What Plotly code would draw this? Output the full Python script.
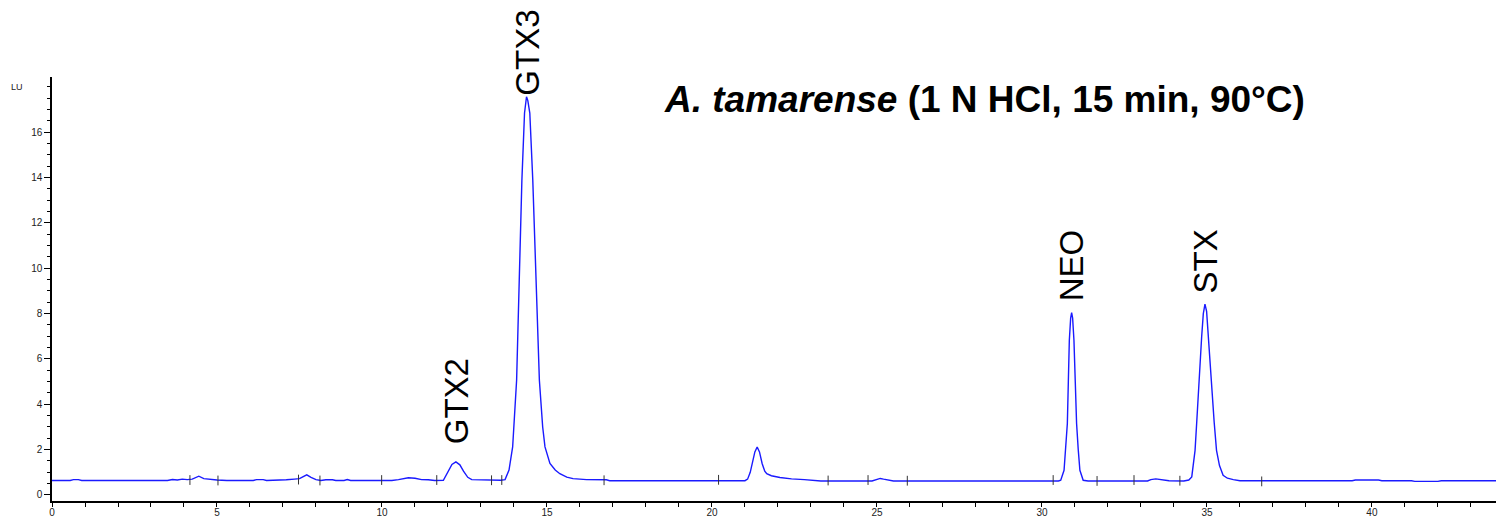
import plotly.graph_objects as go

# Chromatogram points (time in min, signal in LU)
time_min = [
    0.0, 0.55, 0.65, 0.8, 0.9, 3.5, 3.65, 3.8, 3.95, 4.1, 4.25, 4.45, 4.6, 4.8, 5.0, 5.3,
    6.1, 6.2, 6.4, 6.5, 7.0, 7.1, 7.35, 7.5, 7.6, 7.72, 7.85, 8.0, 8.15, 8.3, 8.5, 8.6,
    8.85, 8.95, 9.05, 10.3, 10.5, 10.8, 11.0, 11.2, 11.4, 11.6, 11.86, 12.0, 12.12, 12.24,
    12.36, 12.47, 12.6, 12.72, 13.0, 13.6, 13.73, 13.85, 13.96, 14.08, 14.16, 14.24, 14.32,
    14.38, 14.42, 14.48, 14.57, 14.67, 14.77, 14.87, 14.94, 15.09, 15.25, 15.39, 15.6, 15.79,
    16.2, 16.8, 16.9, 21.0, 21.08, 21.16, 21.23, 21.3, 21.37, 21.44, 21.52, 21.6, 21.66,
    21.8, 22.06, 22.41, 22.8, 23.17, 23.3, 24.85, 25.0, 25.1, 25.2, 25.4, 25.5, 30.5, 30.57,
    30.67, 30.72, 30.77, 30.8, 30.83, 30.87, 30.9, 30.93, 30.97, 31.01, 31.05, 31.1, 31.15,
    31.25, 31.4, 33.2, 33.3, 33.45, 33.6, 33.85, 34.3, 34.45, 34.54, 34.64, 34.69, 34.74,
    34.79, 34.84, 34.89, 34.94, 34.99, 35.04, 35.09, 35.14, 35.22, 35.29, 35.38, 35.49,
    35.62, 35.8, 36.0, 39.4, 39.5, 40.2, 40.3, 41.2, 41.3, 42.0, 42.1, 43.8,
]
signal_lu = [
    0.64, 0.64, 0.68, 0.68, 0.64, 0.64, 0.68, 0.66, 0.70, 0.68, 0.70, 0.83, 0.72, 0.68, 0.66, 0.64,
    0.64, 0.68, 0.68, 0.64, 0.64, 0.67, 0.70, 0.72, 0.80, 0.89, 0.78, 0.68, 0.64, 0.67, 0.67, 0.64,
    0.64, 0.68, 0.64, 0.64, 0.68, 0.76, 0.74, 0.68, 0.67, 0.64, 0.65, 1.05, 1.35, 1.46,
    1.33, 1.05, 0.78, 0.68, 0.66, 0.65, 0.68, 1.10, 2.12, 5.06, 9.48, 13.89, 16.85,
    17.57, 17.40, 16.85, 13.89, 9.48, 5.06, 3.00, 2.12, 1.39, 1.10, 0.94, 0.79, 0.72,
    0.68, 0.67, 0.63, 0.63, 0.70, 1.00, 1.39, 1.90, 2.12, 1.90, 1.39, 1.05, 0.94,
    0.85, 0.77, 0.71, 0.68, 0.65, 0.62, 0.62, 0.67, 0.73, 0.70, 0.65, 0.62, 0.62, 0.65,
    1.09, 2.00, 3.15, 5.00, 6.83, 7.80, 8.04, 7.80, 6.83, 5.00, 3.15, 2.00, 1.09,
    0.65, 0.62, 0.62, 0.68, 0.71, 0.69, 0.63, 0.62, 0.66, 0.80, 1.97, 3.20, 4.62,
    5.90, 6.98, 8.00, 8.42, 8.10, 6.98, 5.80, 4.62, 3.20, 1.97, 1.30, 0.87,
    0.74, 0.68, 0.63, 0.63, 0.66, 0.66, 0.63, 0.63, 0.60, 0.60, 0.63, 0.63,
]

# Integration event markers on the baseline
event_times = [4.18, 5.03, 7.47, 8.12, 9.99, 11.66, 13.32, 13.63, 16.73, 20.2, 23.52,
               24.73, 25.92, 30.34, 31.67, 32.79, 34.18, 36.66]
event_levels = [0.66, 0.64, 0.68, 0.64, 0.66, 0.66, 0.65, 0.66, 0.65, 0.67, 0.64,
                0.66, 0.63, 0.66, 0.62, 0.66, 0.63, 0.60]

# Peak labels (label centre heights given as fraction of the plot height)
peak_names = ["GTX2", "GTX3", "NEO", "STX"]
peak_times = [12.24, 14.42, 30.9, 34.94]
label_levels = [0.235, 1.057, 0.555, 0.565]

x_ticks = [0, 5, 10, 15, 20, 25, 30, 35, 40]
y_ticks = [0, 2, 4, 6, 8, 10, 12, 14, 16]

fig = go.Figure()
fig.add_trace(go.Scatter(
    x=time_min, y=signal_lu, mode="lines",
    line=dict(color="#1a1aff", width=1.4), showlegend=False, hoverinfo="skip",
))
fig.add_trace(go.Scatter(
    x=event_times, y=event_levels, mode="markers",
    marker=dict(symbol="line-ns", size=7, line=dict(color="#333333", width=1)),
    showlegend=False, hoverinfo="skip",
))

for name, t, lvl in zip(peak_names, peak_times, label_levels):
    fig.add_annotation(x=t, y=lvl, xref="x", yref="paper", text=name, textangle=-90,
                       xanchor="center", yanchor="middle", showarrow=False,
                       font=dict(family="Liberation Sans Narrow, Arial Narrow, Arial", size=33, color="black"))

fig.add_annotation(
    x=0.646, y=0.946, xref="paper", yref="paper", xanchor="center", yanchor="middle",
    showarrow=False,
    text="<b><i>A. tamarense</i> (1 N HCl, 15 min, 90°C)</b>",
    font=dict(family="Liberation Sans Narrow, Arial Narrow, Arial", size=37, color="black"),
)
fig.add_annotation(
    x=-0.024, y=18.0, xref="paper", yref="y", xanchor="center", yanchor="middle",
    showarrow=False,
    text="LU", font=dict(family="Liberation Sans, Arial", size=9, color="#222222"),
)

fig.update_layout(
    width=1496, height=523,
    margin=dict(l=52, r=0, t=77, b=22, pad=0),
    paper_bgcolor="white", plot_bgcolor="white",
    font=dict(family="Liberation Sans, Arial", size=10, color="#222222"),
    xaxis=dict(
        range=[0, 43.76], tickvals=x_ticks, ticktext=[str(v) for v in x_ticks],
        showgrid=False, zeroline=False, showline=True, linecolor="black", linewidth=1.5,
        ticks="outside", ticklen=4, tickcolor="black", tickwidth=1,
        minor=dict(dtick=1, tick0=0, ticks="outside", ticklen=4, tickcolor="black", tickwidth=1),
        tickfont=dict(size=10), ticklabelstandoff=-3,
    ),
    yaxis=dict(
        range=[-0.265, 18.44], tickvals=y_ticks, ticktext=[str(v) for v in y_ticks],
        showgrid=False, zeroline=False, showline=True, linecolor="black", linewidth=1.5,
        ticks="outside", ticklen=6, tickcolor="black", tickwidth=1,
        minor=dict(dtick=0.5, tick0=0, ticks="outside", ticklen=3, tickcolor="black", tickwidth=1),
        tickfont=dict(size=10),
    ),
)

fig.write_html("out.html")
